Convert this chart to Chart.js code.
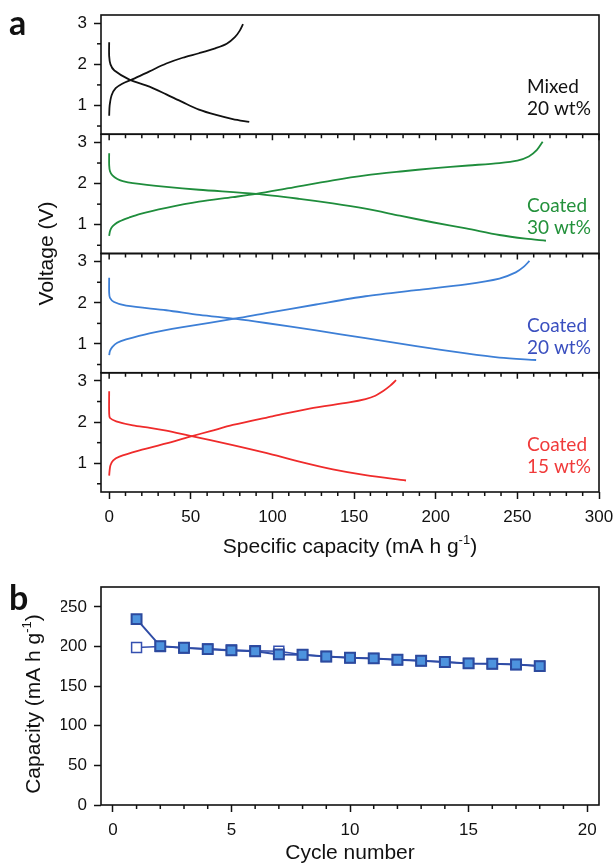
<!DOCTYPE html>
<html>
<head>
<meta charset="utf-8">
<script src="https://cdn.jsdelivr.net/npm/chart.js@4.4.1/dist/chart.umd.min.js"></script>
<style>
 html,body{margin:0;padding:0;background:#fff;width:616px;height:864px;overflow:hidden}
 canvas{position:absolute;left:0}
 #ca{top:0} #cb{top:570px}
</style>
</head>
<body>
<canvas id="ca" width="616" height="570"></canvas>
<canvas id="cb" width="616" height="294"></canvas>
<script>
// ---------------- DATA ----------------
const capTicks = [0, 50, 100, 150, 200, 250, 300];
const capMinorTicks = [10,20,30,40,60,70,80,90,110,120,130,140,160,170,180,190,210,220,230,240,260,270,280,290];
const voltTicks = [1, 2, 3];
const voltMinorTicks = [0.5, 1.5, 2.5];

const panelNames = ['Mixed', 'Coated', 'Coated', 'Coated'];
const panelLoadings = ['20 wt%', '30 wt%', '20 wt%', '15 wt%'];

// Mixed 20 wt%
const mixedChargeCap    = [0, 0.3, 1.5, 4, 8, 14.5, 24.7, 35, 45, 55, 65, 72, 77, 80, 82];
const mixedChargeV      = [0.75, 1.0, 1.25, 1.42, 1.53, 1.64, 1.83, 2.02, 2.16, 2.27, 2.39, 2.5, 2.66, 2.82, 2.98];
const mixedDischargeCap = [0, 0, 0.8, 3.2, 12.4, 24.7, 35, 45, 55, 65.5, 75.7, 85.8];
const mixedDischargeV   = [2.54, 2.2, 2.0, 1.85, 1.63, 1.46, 1.27, 1.08, 0.9, 0.77, 0.67, 0.6];

// Coated 30 wt%
const c30ChargeCap    = [0, 0.5, 1.5, 3.5, 6.3, 12, 18.6, 35, 55, 75.7, 90, 110, 137, 157, 180, 198, 220, 239, 250, 257, 262, 265.5];
const c30ChargeV      = [0.73, 0.84, 0.93, 1.01, 1.08, 1.17, 1.26, 1.41, 1.56, 1.67, 1.75, 1.89, 2.08, 2.2, 2.3, 2.37, 2.44, 2.5, 2.56, 2.66, 2.82, 3.02];
const c30DischargeCap = [0, 0, 0.5, 2, 5, 8.3, 14.5, 35, 55, 90, 116.5, 137, 157, 178, 198, 218.6, 239, 255, 267.5];
const c30DischargeV   = [2.74, 2.45, 2.3, 2.2, 2.11, 2.06, 2.01, 1.92, 1.85, 1.75, 1.63, 1.52, 1.39, 1.22, 1.06, 0.91, 0.75, 0.66, 0.61];

// Coated 20 wt%
const c20ChargeCap    = [0, 0.5, 2, 5, 10.4, 24.7, 45, 77.7, 96, 126.7, 157, 188, 218.6, 239, 249, 254, 257.4];
const c20ChargeV      = [0.73, 0.83, 0.93, 1.03, 1.11, 1.26, 1.41, 1.62, 1.75, 1.96, 2.16, 2.31, 2.45, 2.59, 2.74, 2.88, 3.02];
const c20DischargeCap = [0, 0, 0.5, 3, 10.4, 35, 55.3, 77.7, 96, 126.7, 157, 188, 218.6, 239, 261.5];
const c20DischargeV   = [2.61, 2.25, 2.12, 2.02, 1.93, 1.82, 1.71, 1.61, 1.51, 1.33, 1.14, 0.95, 0.77, 0.67, 0.61];

// Coated 15 wt%
const c15ChargeCap    = [0, 0.3, 0.8, 2.5, 6.3, 18.6, 35, 49, 62, 75.7, 100, 122.7, 147, 157, 163, 167.6, 172, 175.7];
const c15ChargeV      = [0.7, 0.83, 0.95, 1.07, 1.16, 1.31, 1.48, 1.64, 1.78, 1.93, 2.14, 2.33, 2.48, 2.56, 2.64, 2.75, 2.88, 3.02];
const c15DischargeCap = [0, 0, 0.5, 4.3, 14.5, 25, 35, 49, 62, 75.7, 96, 116.5, 137, 157, 181.8];
const c15DischargeV   = [2.75, 2.22, 2.1, 2.02, 1.92, 1.86, 1.79, 1.67, 1.56, 1.44, 1.25, 1.04, 0.85, 0.71, 0.58];

// Panel b: cycling
const cycles          = [1, 2, 3, 4, 5, 6, 7, 8, 9, 10, 11, 12, 13, 14, 15, 16, 17, 18];
const dischargeCapB   = [234.5, 200.4, 198.3, 196.6, 195, 194, 190, 189.5, 187.4, 185.7, 184.9, 183.2, 181.9, 180.3, 178.6, 178.2, 177.3, 175.2];
const chargeCapB      = [198.7, 200, 198, 197, 195.5, 194.5, 194, 189.5, 187.4, 185.7, 184.9, 183.2, 181.9, 180.3, 178.6, 178.2, 177.3, 175.2];
const cycleTicks      = [0, 5, 10, 15, 20];
const cycleMinorTicks = [1,2,3,4,6,7,8,9,11,12,13,14,16,17,18,19];
const capBTicks       = [0, 50, 100, 150, 200, 250];

// ---------------- STYLE ----------------
const AXIS_FONT = {family: "'Liberation Sans', Arial, sans-serif", size: 17};
const TITLE_FONT = "21px 'Liberation Sans', Arial, sans-serif";
const SUP_FONT = "13px 'Liberation Sans', Arial, sans-serif";
const LABEL_FONT = "19px Lato, 'Open Sans', sans-serif";
const INK = '#111';
const panelLineColors = ['#111111', '#1f8d3c', '#3d7fd6', '#ef2b2b'];
const panelTextColors = ['#111111', '#23913b', '#3a4fbf', '#f03a3a'];
const panelAxes = ['y1', 'y2', 'y3', 'y4'];

function pts(xs, ys) { return xs.map((x, i) => ({x: x, y: ys[i]})); }
function curve(xs, ys, color, axis) {
  return {data: pts(xs, ys), borderColor: color, borderWidth: 1.8, pointRadius: 0,
          tension: 0.3, showLine: true, fill: false, yAxisID: axis, xAxisID: 'x'};
}

function drawText(ctx, parts, x, y, rotate) {
  ctx.save();
  ctx.translate(x, y);
  if (rotate) ctx.rotate(-Math.PI / 2);
  let w = 0;
  parts.forEach(p => { ctx.font = p.sup ? SUP_FONT : TITLE_FONT; w += ctx.measureText(p.t).width; });
  let cx = -w / 2;
  ctx.textAlign = 'left'; ctx.textBaseline = 'alphabetic'; ctx.fillStyle = INK;
  parts.forEach(p => {
    ctx.font = p.sup ? SUP_FONT : TITLE_FONT;
    ctx.fillText(p.t, cx, p.sup ? -9 : 0);
    cx += ctx.measureText(p.t).width;
  });
  ctx.restore();
}

function line(ctx, x1, y1, x2, y2) { ctx.beginPath(); ctx.moveTo(x1, y1); ctx.lineTo(x2, y2); ctx.stroke(); }
function noPad(s) { s.paddingTop = 0; s.paddingBottom = 0; s.paddingLeft = 0; s.paddingRight = 0; }

// ---------------- PANEL A ----------------
function yScale(id) {
  return {
    type: 'linear', position: 'left', stack: 'volt', stackWeight: 1,
    min: 0.3, max: 3.2,
    afterBuildTicks: s => { s.ticks = voltTicks.map(v => ({value: v})); },
    afterFit: s => { s.width = 40; noPad(s); },
    ticks: {font: AXIS_FONT, color: INK, padding: 7, autoSkip: false, callback: v => String(v)},
    grid: {drawOnChartArea: false, drawTicks: true, tickLength: 7, tickWidth: 1.5, tickColor: INK},
    border: {display: false}
  };
}

const pluginA = {
  id: 'panelA',
  afterDraw(chart) {
    const {ctx, chartArea: ca, scales} = chart;
    const xs = scales.x;
    ctx.save();
    ctx.strokeStyle = INK; ctx.lineWidth = 1.5;
    panelAxes.forEach((id, i) => {
      const s = scales[id];
      voltMinorTicks.forEach(v => { const py = s.getPixelForValue(v); line(ctx, ca.left - 4, py, ca.left, py); });
      if (i > 0) {
        capTicks.forEach(v => { const px = xs.getPixelForValue(v); line(ctx, px, s.top, px, s.top + 6); });
        capMinorTicks.forEach(v => { const px = xs.getPixelForValue(v); line(ctx, px, s.top, px, s.top + 4); });
      }
    });
    capMinorTicks.forEach(v => { const px = xs.getPixelForValue(v); line(ctx, px, ca.bottom, px, ca.bottom + 4); });
    ctx.lineWidth = 1.6;
    panelAxes.forEach(id => { const s = scales[id]; ctx.strokeRect(ca.left, s.top, ca.right - ca.left, s.bottom - s.top); });
    ctx.font = LABEL_FONT; ctx.textAlign = 'left'; ctx.textBaseline = 'alphabetic';
    panelAxes.forEach((id, i) => {
      const s = scales[id];
      ctx.fillStyle = panelTextColors[i];
      ctx.fillText(panelNames[i], 527, s.top + 78);
      ctx.fillText(panelLoadings[i], 527, s.top + 100);
    });
    ctx.fillStyle = INK; ctx.font = "bold 34px Lato, 'Open Sans', sans-serif";
    ctx.fillText('a', 9, 35);
    ctx.restore();
    drawText(ctx, [{t: 'Voltage (V)'}], 53, (ca.top + ca.bottom) / 2, true);
    drawText(ctx, [{t: 'Specific capacity (mA h g'}, {t: '-1', sup: true}, {t: ')'}], (ca.left + ca.right) / 2, 553, false);
  }
};

new Chart(document.getElementById('ca'), {
  type: 'scatter',
  data: {datasets: [
    curve(mixedChargeCap, mixedChargeV, panelLineColors[0], 'y1'),
    curve(mixedDischargeCap, mixedDischargeV, panelLineColors[0], 'y1'),
    curve(c30ChargeCap, c30ChargeV, panelLineColors[1], 'y2'),
    curve(c30DischargeCap, c30DischargeV, panelLineColors[1], 'y2'),
    curve(c20ChargeCap, c20ChargeV, panelLineColors[2], 'y3'),
    curve(c20DischargeCap, c20DischargeV, panelLineColors[2], 'y3'),
    curve(c15ChargeCap, c15ChargeV, panelLineColors[3], 'y4'),
    curve(c15DischargeCap, c15DischargeV, panelLineColors[3], 'y4')
  ]},
  options: {
    responsive: false, devicePixelRatio: 1, animation: false,
    layout: {padding: {left: 61, right: 17, top: 15, bottom: 8}},
    plugins: {legend: {display: false}, tooltip: {enabled: false}},
    scales: {
      x: {
        type: 'linear', position: 'bottom', min: -5, max: 300,
        afterBuildTicks: s => { s.ticks = capTicks.map(v => ({value: v})); },
        afterFit: s => { s.height = 70; noPad(s); },
        ticks: {font: AXIS_FONT, color: INK, padding: 8, autoSkip: false, maxRotation: 0, callback: v => String(v)},
        grid: {drawOnChartArea: false, drawTicks: true, tickLength: 7, tickWidth: 1.5, tickColor: INK},
        border: {display: false}
      },
      y4: yScale('y4'), y3: yScale('y3'), y2: yScale('y2'), y1: yScale('y1')
    }
  },
  plugins: [pluginA]
});

// ---------------- PANEL B ----------------
const pluginB = {
  id: 'panelB',
  afterDraw(chart) {
    const {ctx, chartArea: ca, scales} = chart;
    ctx.save();
    ctx.strokeStyle = INK; ctx.lineWidth = 1.5;
    cycleMinorTicks.forEach(v => { const px = scales.x.getPixelForValue(v); line(ctx, px, ca.bottom, px, ca.bottom + 4); });
    ctx.lineWidth = 1.6;
    ctx.strokeRect(ca.left, ca.top, ca.right - ca.left, ca.bottom - ca.top);
    ctx.fillStyle = INK; ctx.font = "bold 34px Lato, 'Open Sans', sans-serif";
    ctx.textAlign = 'left'; ctx.textBaseline = 'alphabetic';
    ctx.fillText('b', 9, 40);
    ctx.restore();
    drawText(ctx, [{t: 'Capacity (mA h g'}, {t: '-1', sup: true}, {t: ')'}], 40, 134, true);
    drawText(ctx, [{t: 'Cycle number'}], (ca.left + ca.right) / 2, 289, false);
  }
};

new Chart(document.getElementById('cb'), {
  type: 'scatter',
  data: {datasets: [
    {label: 'Discharge', data: pts(cycles, dischargeCapB), showLine: true, borderColor: '#2f4ca6', borderWidth: 2,
     pointStyle: 'rect', pointRadius: 7, pointBackgroundColor: '#4d93de', pointBorderColor: '#2c4a9e', pointBorderWidth: 2, order: 1},
    {label: 'Charge', data: pts(cycles, chargeCapB), showLine: true, borderColor: '#3550b0', borderWidth: 1.5,
     pointStyle: 'rect', pointRadius: 7, pointBackgroundColor: '#ffffff', pointBorderColor: '#3550b0', pointBorderWidth: 1.5, order: 2}
  ]},
  options: {
    responsive: false, devicePixelRatio: 1, animation: false,
    layout: {padding: {left: 61, right: 17, top: 17, bottom: 4}},
    plugins: {legend: {display: false}, tooltip: {enabled: false}},
    scales: {
      x: {
        type: 'linear', position: 'bottom', min: -0.5, max: 20.5,
        afterBuildTicks: s => { s.ticks = cycleTicks.map(v => ({value: v})); },
        afterFit: s => { s.height = 55; noPad(s); },
        ticks: {font: AXIS_FONT, color: INK, padding: 8, autoSkip: false, maxRotation: 0, callback: v => String(v)},
        grid: {drawOnChartArea: false, drawTicks: true, tickLength: 7, tickWidth: 1.5, tickColor: INK},
        border: {display: false}
      },
      y: {
        type: 'linear', position: 'left', min: 0, max: 275,
        afterBuildTicks: s => { s.ticks = capBTicks.map(v => ({value: v})); },
        afterFit: s => { s.width = 40; noPad(s); },
        ticks: {font: AXIS_FONT, color: INK, padding: 7, autoSkip: false, callback: v => String(v)},
        grid: {drawOnChartArea: false, drawTicks: true, tickLength: 7, tickWidth: 1.5, tickColor: INK},
        border: {display: false}
      }
    }
  },
  plugins: [pluginB]
});
</script>
</body>
</html>
